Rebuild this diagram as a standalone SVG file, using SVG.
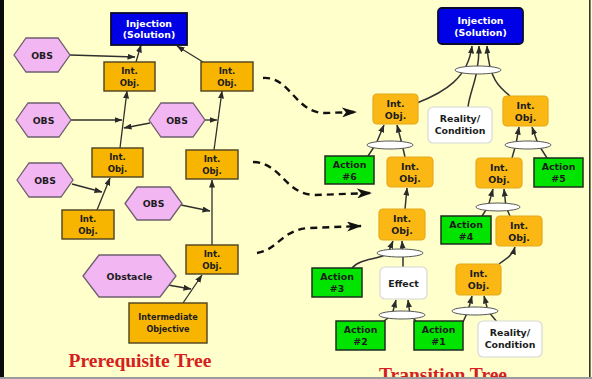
<svg xmlns="http://www.w3.org/2000/svg" width="592" height="379" viewBox="0 0 592 379">
  <defs>
    <marker id="ah" markerUnits="userSpaceOnUse" markerWidth="8" markerHeight="6" refX="7.5" refY="3" orient="auto">
      <path d="M0,0 L8,3 L0,6 z" fill="#2a2a2a"/>
    </marker>
    <marker id="dh" markerUnits="userSpaceOnUse" markerWidth="15" markerHeight="10" refX="14" refY="5" orient="auto">
      <path d="M0,0 L15,5 L0,10 L4,5 z" fill="#111"/>
    </marker>
    <style>
      .t { font-family: "DejaVu Sans", Verdana, sans-serif; font-weight: bold; text-anchor: middle; fill: #1c1c1c; }
      .lo { font-size: 8.6px; }
      .ro { font-size: 9.4px; }
      .hx { font-size: 9.3px; }
      .inj { font-size: 9.4px; fill: #ffffff; }
      .title { font-family: "Liberation Serif", "Times New Roman", serif; font-weight: bold; font-size: 19.5px; fill: #d42020; text-anchor: middle; }
      .obs { fill: #f2b6f2; stroke: #6e5f6e; stroke-width: 1.3; }
      .boxL { fill: #f8b500; stroke: #4d4020; stroke-width: 1.4; }
      .boxR { fill: #fbb814; stroke: #e6a81a; stroke-width: 1.2; }
      .act { fill: #00e400; stroke: #1c2e1c; stroke-width: 1.5; }
      .wht { fill: #ffffff; stroke: #d8d8d8; stroke-width: 1.2; }
      .blue { fill: #0000e6; stroke: #0a0a30; stroke-width: 1.8; }
      .ln { fill: none; stroke: #2f2f2f; stroke-width: 1.3; }
      .ln2 { fill: none; stroke: #333; stroke-width: 1.5; }
      .dash { fill: none; stroke: #111; stroke-width: 2.4; stroke-dasharray: 7 5; }
      .and { fill: #ffffff; stroke: #555; stroke-width: 1; }
    </style>
  </defs>

  <!-- background and frame -->
  <rect x="0" y="0" width="592" height="379" fill="#ffffcc"/>
  <rect x="0" y="0" width="4" height="378" fill="#0a0a0a"/>
  <rect x="589" y="0" width="1.6" height="378" fill="#333"/>

  <!-- connectors -->
  <g id="connectors">
    <!-- prerequisite tree -->
    <path class="ln" d="M70,55 L135,57" marker-end="url(#ah)"/>
    <path class="ln" d="M136,62 L141,45" marker-end="url(#ah)"/>
    <path class="ln" d="M203,62 L177,46" marker-end="url(#ah)"/>
    <path class="ln" d="M120,148 L127,91" marker-end="url(#ah)"/>
    <path class="ln" d="M71,120 L122,120" marker-end="url(#ah)"/>
    <path class="ln" d="M150,123 L124,128" marker-end="url(#ah)"/>
    <path class="ln" d="M205,120 L217,120" marker-end="url(#ah)"/>
    <path class="ln" d="M214,150 L222,91" marker-end="url(#ah)"/>
    <path class="ln" d="M72,184 L102,192" marker-end="url(#ah)"/>
    <path class="ln" d="M97,210 L110,178" marker-end="url(#ah)"/>
    <path class="ln" d="M181,205 L210,211" marker-end="url(#ah)"/>
    <path class="ln" d="M212,245 L212,180" marker-end="url(#ah)"/>
    <path class="ln" d="M168,285 L191,289" marker-end="url(#ah)"/>
    <path class="ln" d="M183,303 L202,275" marker-end="url(#ah)"/>

    <!-- links between the trees -->
    <path class="dash" d="M263,78 C290,76 295,113 325,113 L356,112" marker-end="url(#dh)"/>
    <path class="dash" d="M253,162 C282,163 284,194 315,195 L371,193" marker-end="url(#dh)"/>
    <path class="dash" d="M257,253 C278,250 282,229 310,228 L361,226" marker-end="url(#dh)"/>

    <!-- transition tree -->
    <path class="ln2" d="M417,103 C445,92 468,78 472,46" marker-end="url(#ah)"/>
    <path class="ln2" d="M468,107 C470,90 479,78 479,46" marker-end="url(#ah)"/>
    <path class="ln2" d="M510,96 C500,88 489,80 487,46" marker-end="url(#ah)"/>

    <path class="ln2" d="M368,156 L376,144 L384,125" marker-end="url(#ah)"/>
    <path class="ln2" d="M405,157 L402,144 L397,125" marker-end="url(#ah)"/>

    <path class="ln2" d="M512,158 L516,144 L519,127" marker-end="url(#ah)"/>
    <path class="ln2" d="M547,158 L538,144 L532,127" marker-end="url(#ah)"/>

    <path class="ln2" d="M405,209 L407,188" marker-end="url(#ah)"/>

    <path class="ln2" d="M482,216 L488,207 L493,189" marker-end="url(#ah)"/>
    <path class="ln2" d="M510,216 L506,207 L504,189" marker-end="url(#ah)"/>

    <path class="ln2" d="M352,268 C360,258 380,260 388,253 L393,241" marker-end="url(#ah)"/>
    <path class="ln2" d="M403,267 L403,253 L402,241" marker-end="url(#ah)"/>

    <path class="ln2" d="M384,321 L392,315 L396,300" marker-end="url(#ah)"/>
    <path class="ln2" d="M416,321 L410,315 L408,300" marker-end="url(#ah)"/>

    <path class="ln2" d="M499,264 C508,258 513,254 515,247" marker-end="url(#ah)"/>

    <path class="ln2" d="M463,322 L468,311 L472,296" marker-end="url(#ah)"/>
    <path class="ln2" d="M497,322 L488,311 L484,296" marker-end="url(#ah)"/>

    <!-- AND junctions -->
    <ellipse class="and" cx="478" cy="70" rx="23" ry="4"/>
    <ellipse class="and" cx="390" cy="145" rx="23" ry="4"/>
    <ellipse class="and" cx="528" cy="145" rx="23" ry="4"/>
    <ellipse class="and" cx="498" cy="207" rx="22" ry="4"/>
    <ellipse class="and" cx="400" cy="253" rx="23" ry="4"/>
    <ellipse class="and" cx="402" cy="315" rx="23" ry="4"/>
    <ellipse class="and" cx="475" cy="311" rx="23" ry="4"/>
  </g>

  <!-- prerequisite tree nodes -->
  <g id="pt-injection">
    <rect class="blue" x="111" y="13" width="76" height="32"/>
    <text class="t inj" x="149" y="27">Injection</text>
    <text class="t inj" x="149" y="38">(Solution)</text>
  </g>
  <g id="pt-obs1">
    <polygon class="obs" points="14,55 26,38 58,38 70,55 58,72 26,72"/>
    <text class="t hx" x="42" y="58.5">OBS</text>
  </g>
  <g id="pt-io1">
    <rect class="boxL" x="104" y="62" width="51" height="29"/>
    <text class="t lo" x="129.5" y="74">Int.</text>
    <text class="t lo" x="129.5" y="86">Obj.</text>
  </g>
  <g id="pt-io2">
    <rect class="boxL" x="201" y="62" width="52" height="29"/>
    <text class="t lo" x="227" y="74">Int.</text>
    <text class="t lo" x="227" y="86">Obj.</text>
  </g>
  <g id="pt-obs2">
    <polygon class="obs" points="16,120 28,103 59,103 71,120 59,137 28,137"/>
    <text class="t hx" x="43.5" y="123.5">OBS</text>
  </g>
  <g id="pt-obs3">
    <polygon class="obs" points="149,120 161,103 193,103 205,120 193,137 161,137"/>
    <text class="t hx" x="177" y="123.5">OBS</text>
  </g>
  <g id="pt-io3">
    <rect class="boxL" x="92" y="148" width="51" height="29"/>
    <text class="t lo" x="117.5" y="160">Int.</text>
    <text class="t lo" x="117.5" y="172">Obj.</text>
  </g>
  <g id="pt-io4">
    <rect class="boxL" x="186" y="150" width="52" height="29"/>
    <text class="t lo" x="212" y="162">Int.</text>
    <text class="t lo" x="212" y="174">Obj.</text>
  </g>
  <g id="pt-obs4">
    <polygon class="obs" points="17,180 29,163 61,163 73,180 61,197 29,197"/>
    <text class="t hx" x="45" y="183.5">OBS</text>
  </g>
  <g id="pt-io5">
    <rect class="boxL" x="62" y="210" width="52" height="29"/>
    <text class="t lo" x="88" y="222">Int.</text>
    <text class="t lo" x="88" y="234">Obj.</text>
  </g>
  <g id="pt-obs5">
    <polygon class="obs" points="125,203.5 137,187 170,187 182,203.5 170,220 137,220"/>
    <text class="t hx" x="153.5" y="207">OBS</text>
  </g>
  <g id="pt-io6">
    <rect class="boxL" x="186" y="245" width="52" height="29"/>
    <text class="t lo" x="212" y="257">Int.</text>
    <text class="t lo" x="212" y="269">Obj.</text>
  </g>
  <g id="pt-obstacle">
    <polygon class="obs" points="83,276 99,255 160,255 176,276 160,297 99,297"/>
    <text class="t hx" x="129.5" y="279.5">Obstacle</text>
  </g>
  <g id="pt-intermediate">
    <rect class="boxL" x="129" y="303" width="78" height="40"/>
    <text class="t" style="font-size:8.1px" x="168" y="320">Intermediate</text>
    <text class="t" style="font-size:8.1px" x="168" y="332">Objective</text>
  </g>

  <!-- transition tree nodes -->
  <g id="tt-injection">
    <rect class="blue" x="438" y="8" width="85" height="36" rx="4"/>
    <text class="t inj" x="480.5" y="24">Injection</text>
    <text class="t inj" x="480.5" y="36">(Solution)</text>
  </g>
  <g id="tt-io-a">
    <rect class="boxR" x="373" y="94" width="45" height="30" rx="4"/>
    <text class="t ro" x="395.5" y="107">Int.</text>
    <text class="t ro" x="395.5" y="119">Obj.</text>
  </g>
  <g id="tt-reality-a">
    <rect class="wht" x="428" y="107" width="64" height="36" rx="5"/>
    <text class="t ro" x="460" y="122">Reality/</text>
    <text class="t ro" x="460" y="134">Condition</text>
  </g>
  <g id="tt-io-b">
    <rect class="boxR" x="503" y="96" width="45" height="30" rx="4"/>
    <text class="t ro" x="525.5" y="109">Int.</text>
    <text class="t ro" x="525.5" y="121">Obj.</text>
  </g>
  <g id="tt-action6">
    <rect class="act" x="325" y="156" width="49" height="28"/>
    <text class="t ro" x="349.5" y="168">Action</text>
    <text class="t ro" x="349.5" y="180">#6</text>
  </g>
  <g id="tt-io-c">
    <rect class="boxR" x="387" y="157" width="46" height="30" rx="4"/>
    <text class="t ro" x="410" y="170">Int.</text>
    <text class="t ro" x="410" y="182">Obj.</text>
  </g>
  <g id="tt-io-d">
    <rect class="boxR" x="476" y="158" width="46" height="30" rx="4"/>
    <text class="t ro" x="499" y="171">Int.</text>
    <text class="t ro" x="499" y="183">Obj.</text>
  </g>
  <g id="tt-action5">
    <rect class="act" x="534" y="158" width="49" height="29"/>
    <text class="t ro" x="558.5" y="170">Action</text>
    <text class="t ro" x="558.5" y="182">#5</text>
  </g>
  <g id="tt-action4">
    <rect class="act" x="441" y="216" width="50" height="28"/>
    <text class="t ro" x="466" y="228">Action</text>
    <text class="t ro" x="466" y="240">#4</text>
  </g>
  <g id="tt-io-e">
    <rect class="boxR" x="496" y="216" width="46" height="30" rx="4"/>
    <text class="t ro" x="519" y="229">Int.</text>
    <text class="t ro" x="519" y="241">Obj.</text>
  </g>
  <g id="tt-io-f">
    <rect class="boxR" x="379" y="209" width="46" height="31" rx="4"/>
    <text class="t ro" x="402" y="222">Int.</text>
    <text class="t ro" x="402" y="234">Obj.</text>
  </g>
  <g id="tt-action3">
    <rect class="act" x="312" y="268" width="50" height="29"/>
    <text class="t ro" x="337" y="280">Action</text>
    <text class="t ro" x="337" y="292">#3</text>
  </g>
  <g id="tt-effect">
    <rect class="wht" x="380" y="267" width="47" height="32" rx="5"/>
    <text class="t ro" x="403.5" y="287">Effect</text>
  </g>
  <g id="tt-io-g">
    <rect class="boxR" x="456" y="264" width="45" height="31" rx="4"/>
    <text class="t ro" x="478.5" y="277">Int.</text>
    <text class="t ro" x="478.5" y="289">Obj.</text>
  </g>
  <g id="tt-action2">
    <rect class="act" x="336" y="321" width="49" height="29"/>
    <text class="t ro" x="360.5" y="333">Action</text>
    <text class="t ro" x="360.5" y="345">#2</text>
  </g>
  <g id="tt-action1">
    <rect class="act" x="414" y="321" width="49" height="29"/>
    <text class="t ro" x="438.5" y="333">Action</text>
    <text class="t ro" x="438.5" y="345">#1</text>
  </g>
  <g id="tt-reality-b">
    <rect class="wht" x="478" y="321" width="64" height="36" rx="5"/>
    <text class="t ro" x="510" y="336">Reality/</text>
    <text class="t ro" x="510" y="348">Condition</text>
  </g>

  <!-- titles -->
  <text class="title" x="140" y="367">Prerequisite Tree</text>
  <text class="title" x="443" y="381">Transition Tree</text>

  <!-- bottom edge -->
  <rect x="0" y="377" width="592" height="2" fill="#9c9c9c"/>
</svg>
